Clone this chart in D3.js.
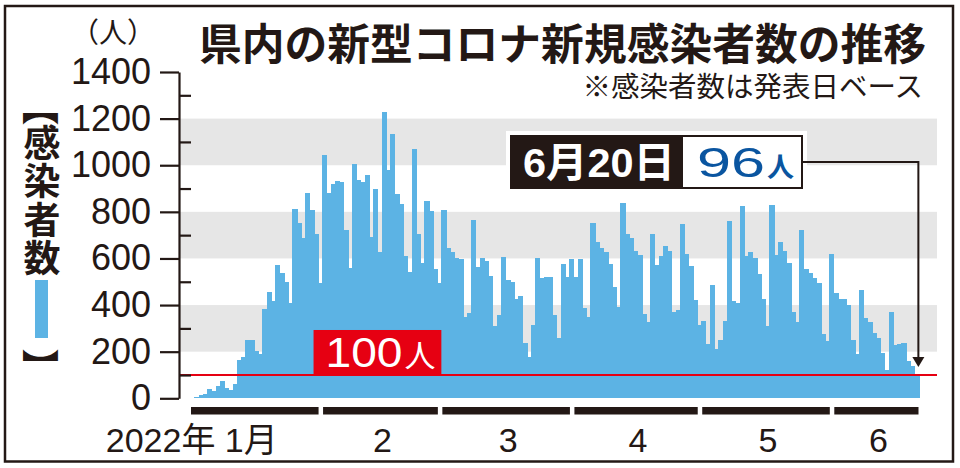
<!DOCTYPE html>
<html lang="ja">
<head>
<meta charset="utf-8">
<script src="https://cdn.jsdelivr.net/npm/d3@7"></script>
<style>
  body { margin: 0; background: #fff; }
  svg { display: block; }
</style>
</head>
<body>
<div id="chart"></div>
<script>
// Daily new cases, one array per month
var casesJan = [2, 5, 14, 20, 38, 30, 53, 74, 45, 35, 60, 164, 178, 249, 249, 203, 189, 383, 457, 417,
  574, 536, 500, 411, 811, 754, 689, 881, 810, 703, 493];
var casesFeb = [1043, 879, 920, 934, 930, 721, 560, 1004, 936, 926, 956, 690, 898, 626, 1229, 981, 1133,
  877, 833, 610, 543, 1071, 707, 579, 846, 803, 554, 496];
var casesMar = [810, 643, 629, 600, 597, 350, 364, 764, 564, 600, 589, 526, 311, 357, 607, 507, 500, 424,
  440, 238, 178, 314, 600, 515, 519, 519, 357, 257, 578, 519, 596];
var casesApr = [521, 596, 386, 347, 752, 671, 646, 628, 576, 478, 393, 836, 703, 686, 633, 614, 361, 326,
  707, 574, 611, 654, 633, 369, 378, 747, 618, 568, 421, 314];
var casesMay = [331, 233, 484, 210, 250, 330, 761, 417, 410, 823, 610, 626, 604, 533, 424, 310, 831, 614,
  669, 633, 579, 371, 328, 721, 554, 536, 518, 493, 274, 247, 621];
var casesJun = [450, 426, 424, 400, 250, 189, 464, 346, 326, 279, 257, 193, 121, 371, 229, 233, 236, 160,
  140, 96];

// Axis labels and reference values
var monthLabels = ["2022年 1月", "2", "3", "4", "5", "6"];
var yTicks = [0, 200, 400, 600, 800, 1000, 1200, 1400];
var yMinorTicks = [100, 300, 500, 700, 900, 1100, 1300];
var bandRanges = [[200, 400], [600, 800], [1000, 1200]];
var threshold = 100;
var lastDate = "6月20日";
var lastValue = 96;

// Colours
var ink = "#231815";
var barBlue = "#5cb3e4";
var red = "#e60012";
var numFont = "'Liberation Sans', Arial, 'Noto Sans CJK JP', sans-serif";
var jpFont = "'Noto Sans CJK JP', sans-serif";

var width = 960;
var height = 468;

var svg = d3.select("#chart")
  .append("svg")
  .attr("width", width)
  .attr("height", height);

var months = [casesJan, casesFeb, casesMar, casesApr, casesMay, casesJun];
var allCases = [].concat.apply([], months);

// Scales
var xScale = d3.scaleBand()
  .domain(d3.range(allCases.length))
  .range([190, 918.5])
  .padding(0);

var yScale = d3.scaleLinear()
  .domain([0, 1400])
  .range([398.3, 72]);

var axisX = 179;
var plotRight = 937;

// Frame
svg.append("rect")
  .attr("x", 5).attr("y", 6)
  .attr("width", 948).attr("height", 455.5)
  .attr("fill", "none")
  .attr("stroke", ink)
  .attr("stroke-width", 2.5);

// Grey bands
svg.selectAll("rect.band")
  .data(bandRanges)
  .enter()
  .append("rect")
  .attr("class", "band")
  .attr("x", axisX)
  .attr("width", plotRight - axisX)
  .attr("y", function(d) { return yScale(d[1]); })
  .attr("height", function(d) { return yScale(d[0]) - yScale(d[1]); })
  .attr("fill", "#e6e6e6");

// Bars
svg.selectAll("rect.bar")
  .data(allCases)
  .enter()
  .append("rect")
  .attr("class", "bar")
  .attr("x", function(d, i) { return xScale(i); })
  .attr("width", xScale.bandwidth() + 1)
  .attr("y", function(d) { return yScale(d); })
  .attr("height", function(d) { return yScale(0) - yScale(d); })
  .attr("fill", barBlue)
  .attr("shape-rendering", "crispEdges");

// 100 line
svg.append("line")
  .attr("x1", axisX).attr("x2", plotRight)
  .attr("y1", yScale(threshold)).attr("y2", yScale(threshold))
  .attr("stroke", red)
  .attr("stroke-width", 2);

// 100 label box
var redX1 = xScale(29);
var redX2 = xScale(59);
svg.append("rect")
  .attr("x", redX1)
  .attr("y", yScale(threshold) - 45)
  .attr("width", redX2 - redX1)
  .attr("height", 45)
  .attr("fill", red);

var redText = svg.append("text")
  .attr("x", redX1 + 12)
  .attr("y", yScale(threshold) - 8)
  .attr("fill", "#fff")
  .attr("font-family", numFont);
redText.append("tspan")
  .attr("font-size", 42)
  .attr("textLength", 77)
  .attr("lengthAdjust", "spacingAndGlyphs")
  .text(threshold);
redText.append("tspan")
  .attr("font-size", 31)
  .attr("dx", 2)
  .text("人");

// Y axis, major ticks to the left
var yAxis = d3.axisLeft(yScale)
  .tickValues(yTicks)
  .tickFormat(d3.format("d"))
  .tickSize(19)
  .tickSizeOuter(0)
  .tickPadding(9);

var gy = svg.append("g")
  .attr("transform", "translate(" + axisX + ",0)")
  .call(yAxis);
gy.select(".domain").attr("stroke", ink).attr("stroke-width", 2.2);
gy.selectAll(".tick line").attr("stroke", ink).attr("stroke-width", 2.2);
gy.selectAll(".tick text")
  .attr("fill", ink)
  .attr("font-size", 36)
  .attr("font-family", numFont);

// Minor ticks to the right
var gyMinor = svg.append("g")
  .attr("transform", "translate(" + axisX + ",0)")
  .call(d3.axisRight(yScale).tickValues(yMinorTicks).tickSize(12).tickFormat(""));
gyMinor.select(".domain").remove();
gyMinor.selectAll(".tick line").attr("stroke", ink).attr("stroke-width", 2.2);

// Month bars and labels
var monthStart = 0;
var monthData = months.map(function(m, i) {
  var s = monthStart;
  monthStart += m.length;
  var x1 = xScale(s) + 1;
  var x2 = xScale(s + m.length - 1) + xScale.bandwidth() - (i === months.length - 1 ? 0 : 3.5);
  return { x1: x1, x2: x2, label: monthLabels[i] };
});

svg.selectAll("rect.month")
  .data(monthData)
  .enter()
  .append("rect")
  .attr("class", "month")
  .attr("x", function(d) { return d.x1; })
  .attr("width", function(d) { return d.x2 - d.x1; })
  .attr("y", 407)
  .attr("height", 7.5)
  .attr("fill", ink);

svg.selectAll("text.month")
  .data(monthData)
  .enter()
  .append("text")
  .attr("class", "month")
  .attr("x", function(d, i) { return i === 0 ? (d.x1 + d.x2) / 2 + 23 : (d.x1 + d.x2) / 2 + 2; })
  .attr("y", 452)
  .attr("text-anchor", function(d, i) { return i === 0 ? "end" : "middle"; })
  .attr("font-size", 34)
  .attr("font-family", numFont)
  .attr("fill", ink)
  .text(function(d) { return d.label; });

// Unit
svg.append("text")
  .attr("x", 71).attr("y", 43)
  .attr("font-size", 28)
  .attr("font-family", jpFont)
  .attr("fill", ink)
  .text("（人）");

// Title and note
svg.append("text")
  .attr("x", 199).attr("y", 60)
  .attr("font-size", 43)
  .attr("font-weight", 700)
  .attr("font-family", jpFont)
  .attr("textLength", 727)
  .attr("lengthAdjust", "spacingAndGlyphs")
  .attr("fill", ink)
  .text("県内の新型コロナ新規感染者数の推移");

svg.append("text")
  .attr("x", 923).attr("y", 97)
  .attr("text-anchor", "end")
  .attr("font-size", 28.5)
  .attr("font-family", jpFont)
  .attr("fill", ink)
  .text("※感染者数は発表日ベース");

// Vertical legend label: brackets turned for vertical setting
function bracket(ch, y) {
  svg.append("text")
    .attr("transform", "translate(42," + y + ") rotate(90)")
    .attr("text-anchor", "middle")
    .attr("dominant-baseline", "central")
    .attr("font-size", 37)
    .attr("font-weight", 700)
    .attr("font-family", jpFont)
    .attr("fill", ink)
    .text(ch);
}

var legendChars = ["感", "染", "者", "数"];
var legendText = svg.append("text")
  .attr("text-anchor", "middle")
  .attr("font-size", 37)
  .attr("font-weight", 700)
  .attr("font-family", jpFont)
  .attr("fill", ink);
legendText.selectAll("tspan")
  .data(legendChars)
  .enter()
  .append("tspan")
  .attr("x", 42)
  .attr("y", function(d, i) { return 157 + i * 38.3; })
  .text(function(d) { return d; });

bracket("【", 107);

svg.append("rect")
  .attr("x", 35).attr("y", 280)
  .attr("width", 13).attr("height", 58)
  .attr("fill", barBlue);

bracket("】", 367);

// Callout for the latest day
var lastIndex = allCases.length - 1;
var arrowX = xScale(lastIndex) + xScale.bandwidth() / 2 + 2;
var arrowTip = yScale(lastValue) - 9;
var boxL = 510, boxMid = 682, boxR = 803, boxT = 135, boxB = 189;

svg.append("rect")
  .attr("x", boxL - 4).attr("y", boxT - 4)
  .attr("width", boxR - boxL + 8).attr("height", boxB - boxT + 8)
  .attr("fill", "#fff");

svg.append("rect")
  .attr("x", boxL).attr("y", boxT)
  .attr("width", boxMid - boxL).attr("height", boxB - boxT)
  .attr("fill", ink);

svg.append("rect")
  .attr("x", boxMid).attr("y", boxT + 1)
  .attr("width", boxR - boxMid - 1).attr("height", boxB - boxT - 2)
  .attr("fill", "#fff")
  .attr("stroke", ink)
  .attr("stroke-width", 2);

svg.append("text")
  .attr("x", 523).attr("y", 177)
  .attr("font-size", 41)
  .attr("font-weight", 700)
  .attr("font-family", numFont)
  .attr("textLength", 152)
  .attr("lengthAdjust", "spacingAndGlyphs")
  .attr("fill", "#fff")
  .text(lastDate);

var valText = svg.append("text")
  .attr("x", 697).attr("y", 177)
  .attr("fill", "#0a55a0")
  .attr("font-family", numFont);
valText.append("tspan")
  .attr("font-size", 42)
  .attr("textLength", 68)
  .attr("lengthAdjust", "spacingAndGlyphs")
  .text(lastValue);
valText.append("tspan")
  .attr("font-size", 27)
  .attr("font-weight", 700)
  .attr("dx", 2)
  .text("人");

svg.append("path")
  .attr("d", "M" + boxR + "," + ((boxT + boxB) / 2) + "H" + arrowX + "V" + (arrowTip - 8))
  .attr("fill", "none")
  .attr("stroke", ink)
  .attr("stroke-width", 2);

svg.append("path")
  .attr("d", "M" + (arrowX - 6) + "," + (arrowTip - 10) + "L" + (arrowX + 6) + "," + (arrowTip - 10) +
    "L" + arrowX + "," + arrowTip + "Z")
  .attr("fill", ink);
</script>
</body>
</html>
